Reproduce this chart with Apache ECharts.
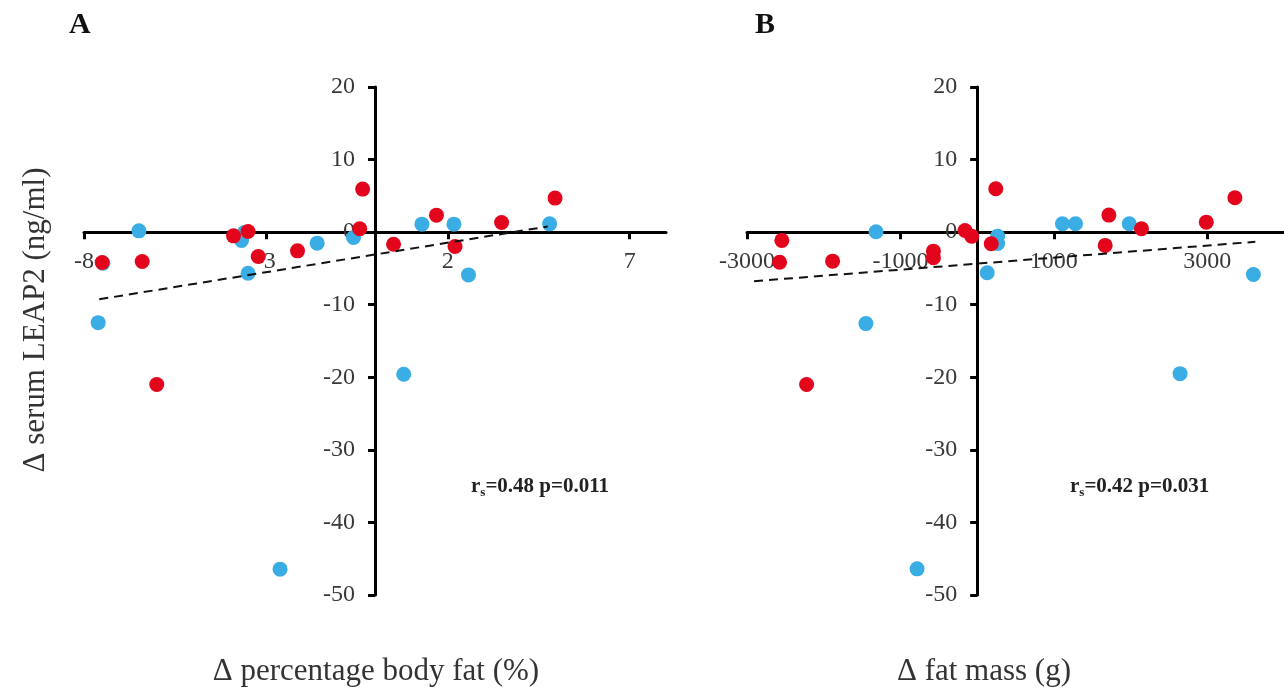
<!DOCTYPE html>
<html>
<head>
<meta charset="utf-8">
<title>LEAP2 vs body fat</title>
<script src="https://cdn.jsdelivr.net/npm/echarts@6/dist/echarts.min.js"></script>
<style>
  html, body { margin: 0; padding: 0; background: #fff; }
  #chart { width: 1284px; height: 691px; }
</style>
</head>
<body>
<div id="chart"></div>
<script>
// panel A: delta percentage body fat (%) vs delta serum LEAP2 (ng/ml)
var blueA = [
  [-7.48, -4.28], [-6.49, 0.18], [-3.67, -1.15], [-3.59, -0.05], [-3.49, -5.66],
  [-1.59, -1.52], [-0.59, -0.74], [1.29, 1.10], [2.17, 1.10], [2.57, -5.89],
  [4.80, 1.14], [-7.61, -12.47], [-2.61, -46.44], [0.79, -19.59]
];
var redA = [
  [-7.50, -4.19], [-6.40, -4.05], [-3.89, -0.51], [-3.49, 0.08], [-3.21, -3.36],
  [-2.13, -2.58], [-0.34, 5.93], [-0.42, 0.46], [0.51, -1.66], [1.69, 2.34],
  [2.20, -1.98], [3.48, 1.33], [4.95, 4.69], [-6.00, -21.0]
];
var trendA = [[-7.58, -9.25], [4.75, 0.78]];
var xTicksA = [-8, -3, 2, 7];

// panel B: delta fat mass (g) vs delta serum LEAP2 (ng/ml)
var blueB = [
  [-1318, 0.05], [267, -0.55], [267, -1.56], [131, -5.6], [1112, 1.16],
  [1282, 1.16], [1983, 1.16], [3601, -5.83], [-1450, -12.6], [-783, -46.4],
  [2645, -19.5]
];
var redB = [
  [-2546, -1.14], [-2575, -4.14], [-1884, -4.0], [-570, -2.62], [-570, -3.53],
  [-158, 0.23], [-71, -0.55], [243, 5.98], [184, -1.6], [1717, 2.35],
  [1669, -1.83], [2142, 0.47], [2987, 1.38], [3360, 4.74], [-2223, -21.0]
];
var trendB = [[-2908, -6.76], [3626, -1.33]];
var xTicksB = [-3000, -1000, 1000, 3000];

var yTicks = { min: -50, max: 20, interval: 10 };

var BLUE = '#3aade4';
var RED = '#e3051b';
var FONT = 'Liberation Serif';

var grids = [
  { left: 84, top: 87, width: 582, height: 508 },
  { left: 747, top: 87, width: 539, height: 508 }
];

function plain(v) { return String(v); }

function xAxisCfg(idx, min, max, ticks) {
  return {
    gridIndex: idx, type: 'value', min: min, max: max, position: 'bottom',
    axisLine: { onZero: false, lineStyle: { color: '#000', width: 3 } },
    axisTick: { show: true, length: 7, customValues: ticks, lineStyle: { color: '#000', width: 3 } },
    axisLabel: { customValues: ticks, formatter: plain, fontSize: 24, fontFamily: FONT, color: '#383838', margin: 18 },
    splitLine: { show: false }
  };
}

function yAxisCfg(idx) {
  return {
    gridIndex: idx, type: 'value', min: yTicks.min, max: yTicks.max, interval: yTicks.interval,
    position: 'left',
    axisLine: { onZero: false, lineStyle: { color: '#000', width: 3 } },
    axisTick: { show: true, length: 7, lineStyle: { color: '#000', width: 3 } },
    axisLabel: { formatter: plain, fontSize: 24, fontFamily: FONT, color: '#383838', margin: 20 },
    splitLine: { show: false }
  };
}

function dots(idx, data, color) {
  return {
    type: 'scatter', xAxisIndex: idx, yAxisIndex: idx, data: data,
    symbolSize: 15, itemStyle: { color: color, opacity: 1 }, z: 2
  };
}

function trend(idx, data) {
  return {
    type: 'line', xAxisIndex: idx, yAxisIndex: idx, data: data,
    showSymbol: false, silent: true, z: 3,
    lineStyle: { color: '#111', width: 2, type: [9, 6] }
  };
}

function statText(x, val) {
  return {
    type: 'text', left: x, top: 476,
    style: {
      text: '{b|r}{s|s}{b|=' + val + '}',
      rich: {
        b: { fontSize: 21, fontWeight: 'bold', fontFamily: FONT, fill: '#222' },
        s: { fontSize: 13, fontWeight: 'bold', fontFamily: FONT, fill: '#222', padding: [12, 0, 0, 0] }
      }
    }
  };
}

var chart = echarts.init(document.getElementById('chart'));
chart.setOption({
  animation: false,
  backgroundColor: '#fff',
  grid: grids,
  xAxis: [xAxisCfg(0, -8, 8, xTicksA), xAxisCfg(1, -3000, 4000, xTicksB)],
  yAxis: [yAxisCfg(0), yAxisCfg(1)],
  series: [
    dots(0, blueA, BLUE), dots(0, redA, RED), trend(0, trendA),
    dots(1, blueB, BLUE), dots(1, redB, RED), trend(1, trendB)
  ],
  graphic: [
    { type: 'text', left: 69, top: 10, style: { text: 'A', fontSize: 30, fontWeight: 'bold', fontFamily: FONT, fill: '#111' } },
    { type: 'text', left: 755, top: 10, style: { text: 'B', fontSize: 30, fontWeight: 'bold', fontFamily: FONT, fill: '#111' } },
    { type: 'text', x: 36, y: 320, rotation: Math.PI / 2,
      style: { text: 'Δ serum LEAP2 (ng/ml)', fontSize: 31, fontFamily: FONT, fill: '#333', align: 'center', verticalAlign: 'middle' } },
    { type: 'text', x: 376, y: 672,
      style: { text: 'Δ percentage body fat (%)', fontSize: 31, fontFamily: FONT, fill: '#333', align: 'center', verticalAlign: 'middle' } },
    { type: 'text', x: 984, y: 672,
      style: { text: 'Δ fat mass (g)', fontSize: 31, fontFamily: FONT, fill: '#333', align: 'center', verticalAlign: 'middle' } },
    statText(471, '0.48 p=0.011'),
    statText(1070, '0.42 p=0.031')
  ]
});

// move each axis (line, ticks, labels) so the two axes cross at the origin
var xOff = [], yOff = [];
for (var i = 0; i < grids.length; i++) {
  var p = chart.convertToPixel({ gridIndex: i }, [0, 0]);
  var g = grids[i];
  xOff.push({ offset: -((g.top + g.height) - p[1]) });
  yOff.push({ offset: -(p[0] - g.left) });
}
chart.setOption({ xAxis: xOff, yAxis: yOff });
</script>
</body>
</html>
